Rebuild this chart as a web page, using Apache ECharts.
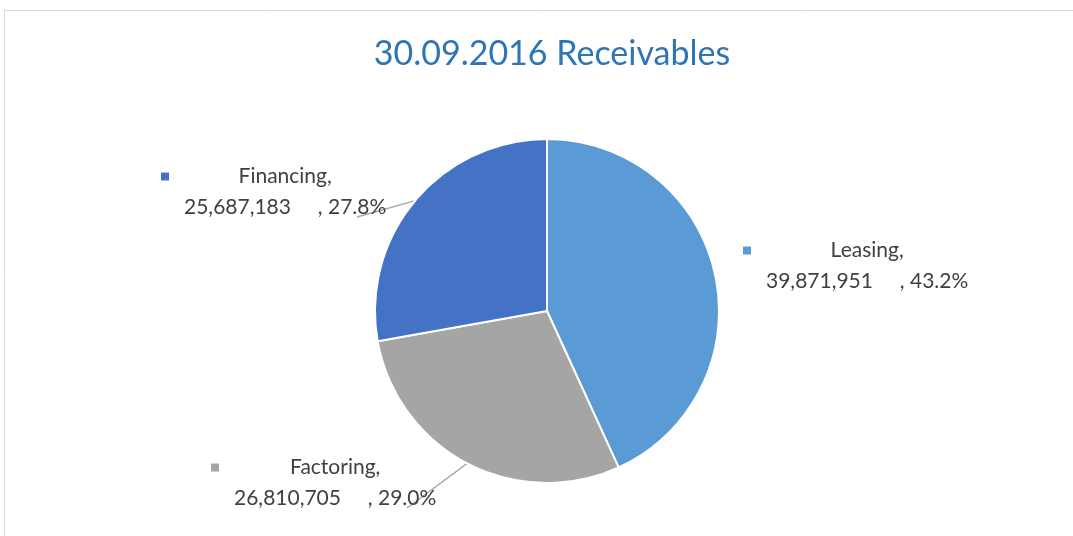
<!DOCTYPE html>
<html>
<head>
  <meta charset="utf-8">
  <style>
    html, body { margin: 0; padding: 0; background: #fff; }
    #container { width: 1073px; height: 536px; }
  </style>
</head>
<body>
  <div id="container"></div>
  <script src="https://cdn.jsdelivr.net/npm/echarts@6/dist/echarts.min.js"></script>
  <script>
    var categories = ['Leasing', 'Factoring', 'Financing'];
    var values = [39871951, 26810705, 25687183];
    var percents = ['43.2%', '29.0%', '27.8%'];
    var colors = ['#5B9BD5', '#A5A5A5', '#4472C4'];

    // where each label box sits (top-left), like in the original
    var labelPos = [[743, 235], [211, 452], [161, 161]];

    var font = 'Lato, "Noto Sans", sans-serif';

    function fmtNum(n) {
      return n.toString().replace(/\B(?=(\d{3})+(?!\d))/g, ',');
    }

    var data = categories.map(function (name, i) {
      return {
        name: name,
        value: values[i],
        itemStyle: { color: colors[i] },
        label: {
          rich: {
            sq: { width: 8, height: 8, backgroundColor: colors[i], align: 'left' }
          }
        },
        labelLine: { show: i !== 0 }
      };
    });

    var dom = document.getElementById('container');
    var myChart = echarts.init(dom, null, { renderer: 'canvas' });

    var option = {
      backgroundColor: '#fff',
      animation: false,
      title: {
        text: '30.09.2016 Receivables',
        left: 547,
        textAlign: 'center',
        top: 32,
        textStyle: {
          color: '#2E75B6',
          fontSize: 34,
          fontWeight: 'normal',
          fontFamily: font
        }
      },
      graphic: [{
        type: 'rect',
        shape: { x: 4.5, y: 10.5, width: 1200, height: 700 },
        style: { fill: 'none', stroke: '#D9D9D9', lineWidth: 1 },
        silent: true
      }],
      series: [{
        type: 'pie',
        center: [547, 311],
        radius: 172,
        startAngle: 90,
        clockwise: true,
        itemStyle: { borderColor: '#fff', borderWidth: 2 },
        label: {
          show: true,
          fontFamily: font,
          fontSize: 21,
          color: '#404040',
          lineHeight: 31,
          formatter: function (p) {
            return '{sq|}{g|}{nm|' + p.name + ',}\n{sp|}{v|' + fmtNum(p.value) + '     , ' + percents[p.dataIndex] + '}';
          },
          rich: {
            nm: { fontFamily: font, fontSize: 21, color: '#404040', lineHeight: 31, align: 'center' },
            v: { fontFamily: font, fontSize: 21, color: '#404040', lineHeight: 31, align: 'center' },
            g: { width: 15, align: 'left' },
            sp: { width: 23, align: 'left' }
          }
        },
        labelLine: {
          show: true,
          length: 20,
          length2: 20,
          lineStyle: { color: '#A6A6A6', width: 1.3 }
        },
        labelLayout: function (params) {
          var p = labelPos[params.dataIndex];
          var r = params.labelRect;
          var pts = params.labelLinePoints;
          var out = { x: p[0], y: p[1], align: 'left', verticalAlign: 'top' };
          if (pts) {
            // straight guide from the slice edge to the lower right of the text
            out.labelLinePoints = [pts[0], [p[0] + r.width * 0.87, p[1] + r.height - 6]];
          }
          return out;
        },
        data: data
      }]
    };

    myChart.setOption(option);
    window.addEventListener('resize', myChart.resize);
  </script>
</body>
</html>
